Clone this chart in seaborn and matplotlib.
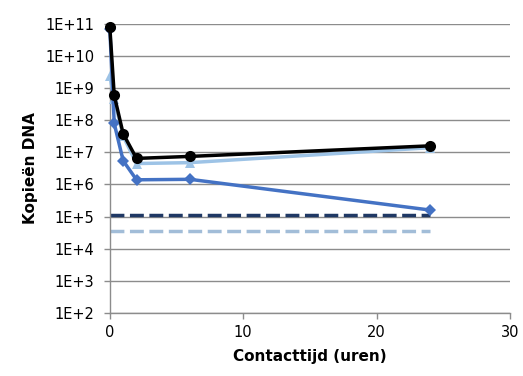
import numpy as np
import pandas as pd
import seaborn as sns
import matplotlib.pyplot as plt
from matplotlib.ticker import FixedLocator, FuncFormatter, NullLocator

# contact time (hours)
hours = [0, 0.33, 1, 2, 6, 24]
copies_black = [8.0e10, 6.0e8, 3.8e7, 6.5e6, 7.5e6, 1.6e7]
copies_lightblue = [2.4e9, 4.5e8, 3.2e7, 4.5e6, 4.8e6, 1.4e7]
copies_blue = [7.0e10, 8.0e7, 5.5e6, 1.4e6, 1.45e6, 1.6e5]
limit_hours = [0, 24]
limit_dark = [1.1e5, 1.1e5]
limit_light = [3.6e4, 3.6e4]

sns.set_theme(style='white')
plt.rcParams['font.family'] = ['DejaVu Sans']

fig = plt.figure(figsize=(5.23, 3.76), dpi=100)
ax = fig.add_axes([0.21, 0.168, 0.765, 0.768])

df_dark = pd.DataFrame({'x': limit_hours, 'y': limit_dark})
df_light = pd.DataFrame({'x': limit_hours, 'y': limit_light})
sns.lineplot(ax=ax, data=df_light, x='x', y='y', color='#A2BDD8', lw=2.5,
             ls=(0, (4, 1.6)), zorder=2)
sns.lineplot(ax=ax, data=df_dark, x='x', y='y', color='#1F3864', lw=2.5,
             ls=(0, (4, 1.6)), zorder=2)

df = pd.DataFrame({'x': hours, 'lb': copies_lightblue, 'b': copies_blue, 'k': copies_black})
sns.lineplot(ax=ax, data=df, x='x', y='lb', color='#9DC3E6', lw=2.5, marker='^',
             markersize=7, markeredgewidth=0, zorder=3, clip_on=False)
sns.lineplot(ax=ax, data=df, x='x', y='b', color='#4472C4', lw=2.5, marker='D',
             markersize=6, markeredgewidth=0, zorder=4, clip_on=False)
sns.lineplot(ax=ax, data=df, x='x', y='k', color='black', lw=2.5, marker='o',
             markersize=8, markeredgewidth=0, zorder=5, clip_on=False)

ax.set_yscale('log')
ax.set_ylim(1e2, 1e11)
ax.set_xlim(0, 30)
ax.yaxis.set_major_locator(FixedLocator([10.0 ** k for k in range(2, 12)]))
ax.yaxis.set_minor_locator(NullLocator())
ax.yaxis.set_major_formatter(FuncFormatter(lambda v, p: f'1E+{int(round(np.log10(v)))}'))
ax.set_xticks([0, 10, 20, 30])

ax.grid(axis='y', color='#8C8C8C', lw=1)
ax.set_axisbelow(True)
for s in ['top', 'right']:
    ax.spines[s].set_visible(False)
for s in ['left', 'bottom']:
    ax.spines[s].set_color('#8C8C8C')
    ax.spines[s].set_linewidth(1)
ax.tick_params(axis='both', colors='#8C8C8C', labelcolor='black', labelsize=10.5,
               length=4, width=1, direction='out', left=True, bottom=True)
ax.tick_params(axis='y', pad=7)
ax.tick_params(axis='x', pad=5)

ax.set_xlabel('Contacttijd (uren)', fontsize=11, fontweight='bold', labelpad=6,
              color='black')
ax.set_ylabel('Kopieën DNA', fontsize=11, fontweight='bold', labelpad=5,
              color='black')

fig.savefig('out.png', dpi=100)
